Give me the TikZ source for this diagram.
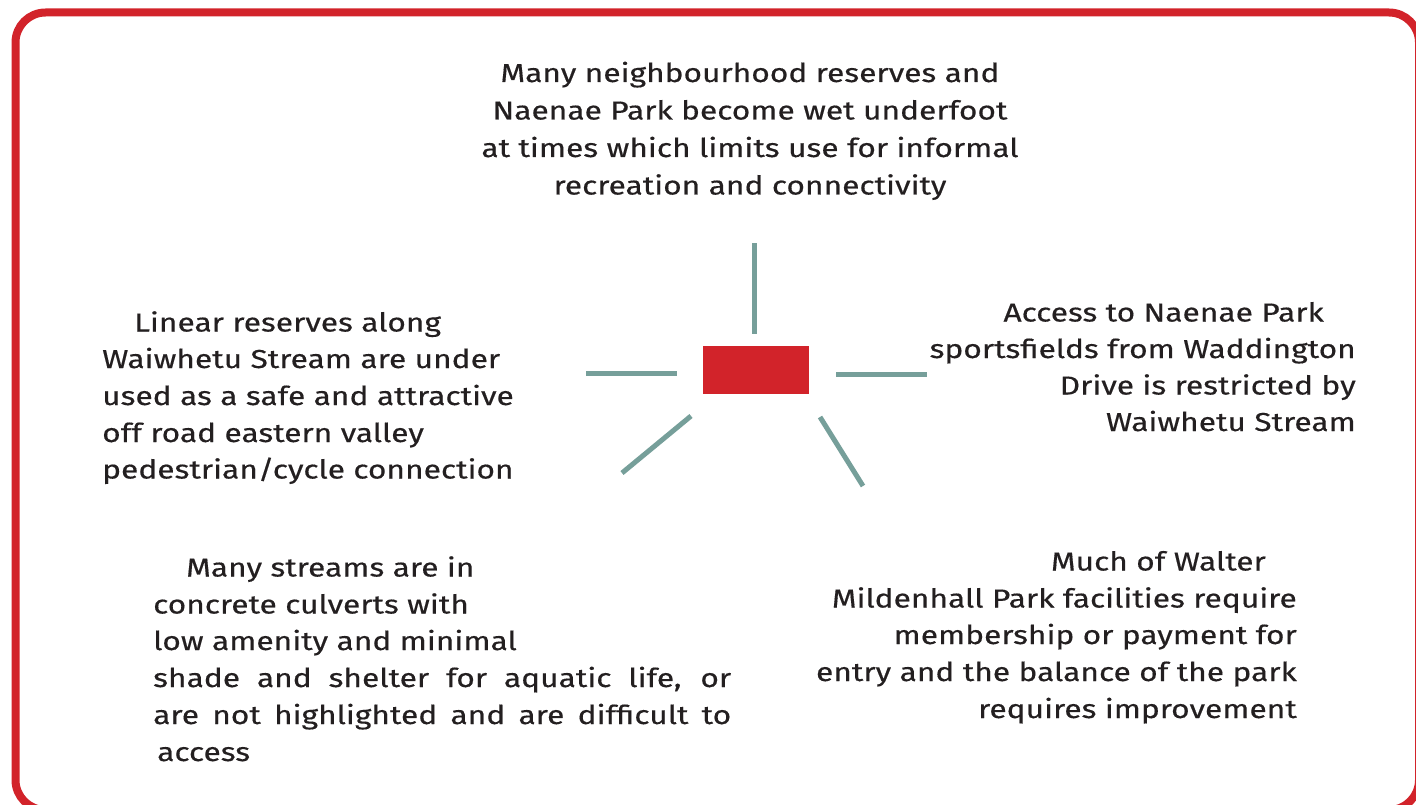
\documentclass[tikz,border=0pt]{standalone}
\usepackage{fontspec}
\setmainfont{Fira Sans}[FakeStretch=1.22, FakeBold=0.4]
\definecolor{framered}{HTML}{D2232A}
\definecolor{rayteal}{HTML}{769F9A}
\definecolor{inkgray}{HTML}{231F20}
\begin{document}
\begin{tikzpicture}[x=1pt,y=-1pt,
  txt/.style={inner sep=0pt, text=inkgray, font=\fontsize{26}{37}\selectfont},
  ray/.style={draw=rayteal, line width=5pt},
  hub/.style={fill=framered, draw=none, minimum width=106pt, minimum height=48pt, inner sep=0pt}]
\useasboundingbox (0,0) rectangle (1416,805);
% outer frame
\draw[framered, line width=8pt, rounded corners=30pt] (15.5,12.5) rectangle (1419,810);
% central block
\node[hub] (hub) at (756,370) {};
% rays
\coordinate (rtA) at (754,243); \coordinate (rtB) at (754,334);
\coordinate (rlA) at (586,373); \coordinate (rlB) at (677,373);
\coordinate (rrA) at (836,374.5); \coordinate (rrB) at (927,374.5);
\coordinate (rblA) at (691,416); \coordinate (rblB) at (622,473);
\coordinate (rbrA) at (820,417); \coordinate (rbrB) at (863,486);
\draw[ray] (rtA) -- (rtB);
\draw[ray] (rlA) -- (rlB);
\draw[ray] (rrA) -- (rrB);
\draw[ray] (rblA) -- (rblB);
\draw[ray] (rbrA) -- (rbrB);
% top text
\node[txt, anchor=base] (ta) at (750,82) {Many neighbourhood reserves and};
\node[txt, anchor=base] (tb) at (750,119.5) {Naenae Park become wet underfoot};
\node[txt, anchor=base] (tc) at (750,157) {at times which limits use for informal};
\node[txt, anchor=base] (td) at (750,194.5) {recreation and connectivity};
% left text
\node[txt, anchor=base west] (la) at (134,331.5) {Linear reserves along};
\node[txt, anchor=base west] (lb) at (102,368) {Waiwhetu Stream are under};
\node[txt, anchor=base west] (lc) at (102,405) {used as a safe and attractive};
\node[txt, anchor=base west] (ld) at (102,442) {off road eastern valley};
\node[txt, anchor=base west] (le) at (102,478.5) {pedestrian/cycle connection};
% right text
\node[txt, anchor=base east] (ra) at (1324,321.5) {Access to Naenae Park};
\node[txt, anchor=base east] (rb) at (1356,358) {sportsfields from Waddington};
\node[txt, anchor=base east] (rc) at (1356,394.5) {Drive is restricted by};
\node[txt, anchor=base east] (rd) at (1356,431) {Waiwhetu Stream};
% lower left text
\node[txt, anchor=base west] (bla) at (186,576.5) {Many streams are in};
\node[txt, anchor=base west] (blb) at (153,613.5) {concrete culverts with};
\node[txt, anchor=base west] (blc) at (153,650) {low amenity and minimal};
\node[txt, anchor=base west] (bld) at (153,687) {\makebox[578pt][s]{shade and shelter for aquatic life, or}};
\node[txt, anchor=base west] (ble) at (153,724) {\makebox[578pt][s]{are not highlighted and are difficult to}};
\node[txt, anchor=base west] (blf) at (157,761) {access};
% lower right text
\node[txt, anchor=base east] (bra) at (1266,570.5) {Much of Walter};
\node[txt, anchor=base east] (brb) at (1297,607.5) {Mildenhall Park facilities require};
\node[txt, anchor=base east] (brc) at (1297,644) {membership or payment for};
\node[txt, anchor=base east] (brd) at (1297,681) {entry and the balance of the park};
\node[txt, anchor=base east] (bre) at (1297,718) {requires improvement};
\end{tikzpicture}
\end{document}
